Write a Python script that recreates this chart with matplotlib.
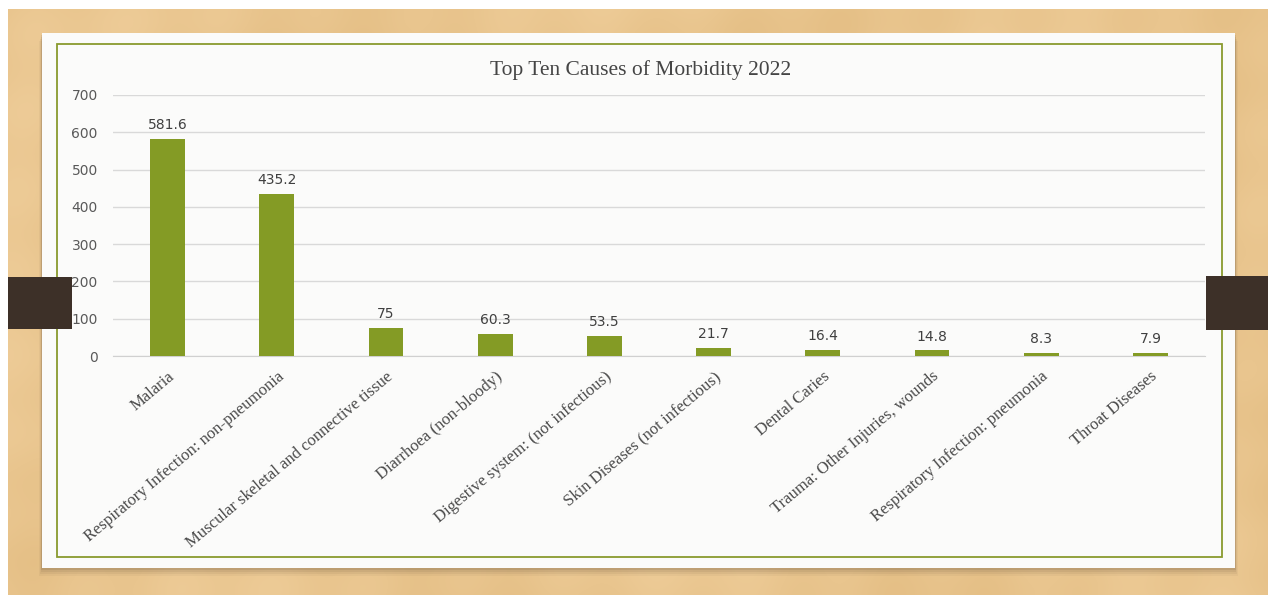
import matplotlib
matplotlib.use("Agg")
import matplotlib.pyplot as plt
from matplotlib.patches import Rectangle
import numpy as np

# Data
categories = [
    "Malaria",
    "Respiratory Infection: non-pneumonia",
    "Muscular skeletal and connective tissue",
    "Diarrhoea (non-bloody)",
    "Digestive system: (not infectious)",
    "Skin Diseases (not infectious)",
    "Dental Caries",
    "Trauma: Other Injuries, wounds",
    "Respiratory Infection: pneumonia",
    "Throat Diseases",
]
values = [581.6, 435.2, 75, 60.3, 53.5, 21.7, 16.4, 14.8, 8.3, 7.9]
value_labels = ["581.6", "435.2", "75", "60.3", "53.5", "21.7", "16.4", "14.8", "8.3", "7.9"]
y_ticks = [0, 100, 200, 300, 400, 500, 600, 700]
title = "Top Ten Causes of Morbidity 2022"

W, H = 1268, 595
fig = plt.figure(figsize=(W / 100, H / 100), dpi=100)
fig.patch.set_facecolor("white")


def px(x0, y0, x1, y1):
    """Pixel box (top-left origin) -> figure-fraction rectangle args."""
    return (x0 / W, 1 - y1 / H), (x1 - x0) / W, (y1 - y0) / H


# Wooden backdrop with soft grain
bg = fig.add_axes([8 / W, 0, 1 - 8 / W, 1 - 9 / H])
bg.set_axis_off()
cols = np.linspace(0, 1, 600)
rows = np.linspace(0, 1, 300)
C, R = np.meshgrid(cols, rows)
t = (0.5 + 0.22 * np.sin(C * 17 + 2 * np.sin(R * 4)) + 0.12 * np.sin(C * 83 + R * 3)
     + 0.08 * np.sin(R * 45 + C * 5))
t = np.clip(t, 0, 1)
dark = np.array([228, 190, 132]) / 255.0
light = np.array([238, 204, 152]) / 255.0
tex = dark[None, None, :] * (1 - t[..., None]) + light[None, None, :] * t[..., None]
bg.imshow(tex, aspect="auto", extent=[0, 1, 0, 1], interpolation="bilinear")
bg.set_xlim(0, 1)
bg.set_ylim(0, 1)

# Card shadow
for i, a in enumerate([0.05, 0.07, 0.09, 0.12]):
    off = 8 - 2 * i
    xy, w, h = px(42 - off / 3, 33 + off, 1235 + off / 3, 568 + off)
    fig.patches.append(Rectangle(xy, w, h, transform=fig.transFigure,
                                 facecolor="#5a4632", alpha=a, edgecolor="none", zorder=1))

# White card
xy, w, h = px(42, 33, 1235, 568)
fig.patches.append(Rectangle(xy, w, h, transform=fig.transFigure,
                             facecolor="#fbfbfa", edgecolor="none", zorder=2))

# Green frame
xy, w, h = px(57, 44, 1222, 557)
fig.patches.append(Rectangle(xy, w, h, transform=fig.transFigure,
                             facecolor="none", edgecolor="#8a9a2e", linewidth=1.3, zorder=3))

# Chart
ax = fig.add_axes([113 / W, 1 - 356 / H, (1205 - 113) / W, (356 - 95) / H])
ax.set_facecolor("none")
ax.set_zorder(5)
x = np.arange(len(categories))
ax.bar(x, values, width=0.32, color="#849b25", zorder=3)
ax.set_xlim(-0.5, len(categories) - 0.5)
ax.set_ylim(0, 700)
ax.set_yticks(y_ticks)
ax.set_yticklabels([str(t) for t in y_ticks], fontsize=10, color="#595959",
                   family="DejaVu Sans")
ax.tick_params(axis="y", length=0, pad=11)
ax.tick_params(axis="x", length=0, pad=9)
ax.grid(axis="y", color="#d9d9d9", linewidth=1.0, zorder=0)
for s in ["top", "right", "left"]:
    ax.spines[s].set_visible(False)
ax.spines["bottom"].set_color("#d0d0d0")
ax.set_xticks(x)
ax.set_xticklabels(categories, rotation=40, ha="right", rotation_mode="anchor",
                   fontsize=12, family="Liberation Serif", color="#4a4a4a")

for xi, v, lab in zip(x, values, value_labels):
    ax.annotate(lab, (xi, v), xytext=(0, 5), textcoords="offset points",
                ha="center", va="bottom", fontsize=10, color="#404040",
                family="DejaVu Sans")

fig.text(641 / W, 1 - 70 / H, title, ha="center", va="center",
         fontsize=15.5, family="Liberation Serif", color="#454545", zorder=6)

# Binder tabs
for (x0, y0, x1, y1) in [(8, 277, 72, 329), (1206, 276, 1268, 330)]:
    xy, w, h = px(x0, y0, x1, y1)
    fig.patches.append(Rectangle(xy, w, h, transform=fig.transFigure,
                                 facecolor="#3d3028", edgecolor="none", zorder=10))

fig.savefig("out.png", dpi=100, facecolor=fig.get_facecolor())
